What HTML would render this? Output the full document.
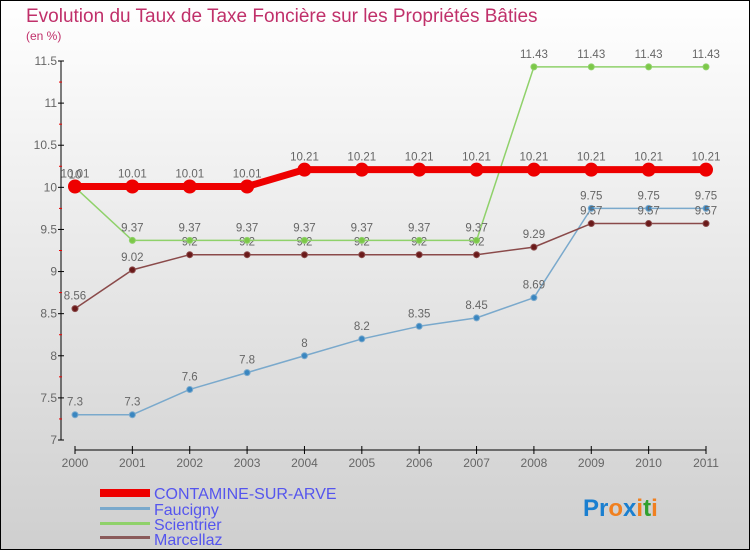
<!DOCTYPE html>
<html><head><meta charset="utf-8"><style>
body{margin:0;width:750px;height:550px;overflow:hidden;font-family:"Liberation Sans",sans-serif}
svg{display:block}
</style></head><body>
<svg id="c" width="750" height="550" xmlns="http://www.w3.org/2000/svg">
<defs><linearGradient id="bg" x1="0" y1="0" x2="0" y2="1"><stop offset="0" stop-color="#ffffff"/><stop offset="1" stop-color="#cfcfcf"/></linearGradient></defs>
<rect x="0.5" y="0.5" width="749" height="549" fill="url(#bg)" stroke="#000"/>
<text x="26" y="22" font-size="19" fill="#c0306a">Evolution du Taux de Taxe Foncière sur les Propriétés Bâties</text>
<text x="26" y="40" font-size="12" fill="#c0306a">(en %)</text>
<g id="axes"></g><g id="series"></g>
<g>
<rect x="100" y="489" width="50" height="8" fill="#e00"/>
<text x="154" y="499" font-size="16" fill="#5555ee">CONTAMINE-SUR-ARVE</text>
<rect x="100" y="507" width="50" height="3" fill="#7aa9cc"/>
<text x="154" y="515" font-size="16" fill="#5555ee">Faucigny</text>
<rect x="100" y="522" width="50" height="3" fill="#8fd16a"/>
<text x="154" y="530" font-size="16" fill="#5555ee">Scientrier</text>
<rect x="100" y="536" width="50" height="3" fill="#8a5a5a"/>
<text x="154" y="545" font-size="16" fill="#5555ee">Marcellaz</text>
</g>
<text x="583" y="516" font-size="24" font-weight="bold"><tspan fill="#1a7fd0">Pr</tspan><tspan fill="#f08020">o</tspan><tspan fill="#1a7fd0">x</tspan><tspan fill="#f08020">i</tspan><tspan fill="#30a030">t</tspan><tspan fill="#f08020">i</tspan></text>
</svg>
<script>
const years=[2000,2001,2002,2003,2004,2005,2006,2007,2008,2009,2010,2011];
const yTicks=[7,7.5,8,8.5,9,9.5,10,10.5,11,11.5];
const contamine=[10.01,10.01,10.01,10.01,10.21,10.21,10.21,10.21,10.21,10.21,10.21,10.21];
const faucigny=[7.3,7.3,7.6,7.8,8,8.2,8.35,8.45,8.69,9.75,9.75,9.75];
const scientrier=[10,9.37,9.37,9.37,9.37,9.37,9.37,9.37,11.43,11.43,11.43,11.43];
const marcellaz=[8.56,9.02,9.2,9.2,9.2,9.2,9.2,9.2,9.29,9.57,9.57,9.57];
const NS="http://www.w3.org/2000/svg";
const xs=i=>75+i*(706-75)/(years.length-1);
const ys=v=>440-(v-7)*(440-61)/4.5;
function mk(t,a,p){const e=document.createElementNS(NS,t);for(const k in a)e.setAttribute(k,a[k]);p.appendChild(e);return e;}
const ax=document.getElementById('axes');
const ya=mk('line',{x1:61,y1:ys(11.5),x2:61,y2:ys(7),stroke:'#000','stroke-width':1},ax);


const xa=mk('line',{x1:xs(0),y1:450,x2:xs(11),y2:450,stroke:'#000','stroke-width':1},ax);


yTicks.forEach(v=>{
  mk('line',{x1:58,y1:ys(v),x2:64,y2:ys(v),stroke:'#000'},ax);
  if(v<11.5)mk('line',{x1:59,y1:ys(v+0.25),x2:62,y2:ys(v+0.25),stroke:'#e00'},ax);
  const t=mk('text',{x:57,y:ys(v)+4,'text-anchor':'end','font-size':12,fill:'#666'},ax);
  
  
  t.textContent=String(v);
});
years.forEach((y,i)=>{
  mk('line',{x1:xs(i),y1:446,x2:xs(i),y2:454,stroke:'#000'},ax);
  const t=mk('text',{x:xs(i),y:467,'text-anchor':'middle','font-size':12,fill:'#666'},ax);
  
  
  t.textContent=String(y);
});
const sg=document.getElementById('series');
function series(name,data,col,w,r,dot){
  const g=mk('g',{},sg);
  
  
  mk('polyline',{points:data.map((v,i)=>xs(i)+','+ys(v)).join(' '),fill:'none',stroke:col,'stroke-width':w,'stroke-linejoin':'round'},g);
  data.forEach((v,i)=>{
    const c=mk('circle',{cx:xs(i),cy:ys(v),r:r,fill:dot,stroke:col,'stroke-width':1},g);
    
    
    const t=mk('text',{x:xs(i),y:ys(v)-9,'text-anchor':'middle','font-size':11.5,fill:'#666'},g);
    
    
    t.textContent=String(v);
  });
}
series('faucigny',faucigny,'#7aa9cc',1.5,3,'#3a86c0');
series('marcellaz',marcellaz,'#8a4a4a',1.5,3,'#6a1a1a');
series('scientrier',scientrier,'#8fd16a',1.5,3,'#7cc848');
series('contamine',contamine,'#e00',7,6.5,'#e00');
</script>
</body></html>
